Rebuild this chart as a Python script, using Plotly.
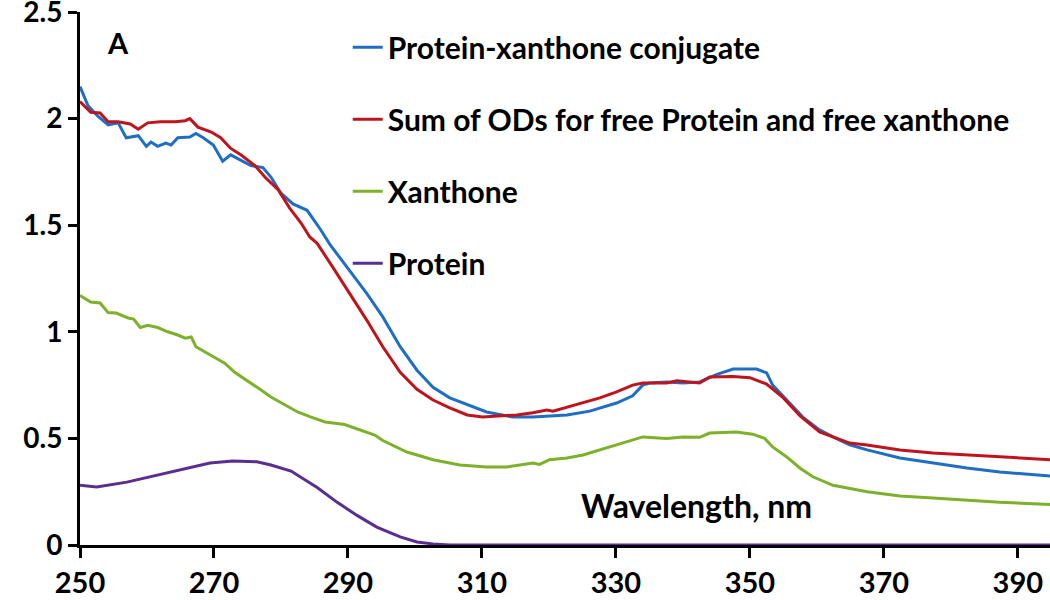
import plotly.graph_objects as go

# ---- data ----
wl_conj = [250, 251.2, 252.7, 254.2, 255.7, 256.9, 258.7, 259.9, 260.6, 261.6, 262.8, 263.6, 264.6,
           266.4, 267.3, 268.4, 269.9, 271.3, 272.5, 274.0, 275.5, 277.3, 278.5, 280, 281.8, 283.9,
           285.9, 287.3, 289.9, 292.8, 295.2, 297.8, 300.3, 302.7, 305.2, 307.8, 310.7, 314.6, 317.6,
           322.7, 326.1, 330.1, 332.5, 334, 335, 337.6, 340, 342.5, 345.1, 347.5, 351, 352.5, 353.4,
           355.5, 357.9, 360.4, 362.4, 364.9, 367.5, 372.4, 377.3, 382.4, 387.3, 392.2, 395]
od_conj = [2.15, 2.06, 2.01, 1.97, 1.98, 1.91, 1.92, 1.87, 1.89, 1.87, 1.885, 1.876, 1.91,
           1.914, 1.93, 1.91, 1.876, 1.80, 1.83, 1.806, 1.78, 1.77, 1.726, 1.65, 1.60, 1.57,
           1.48, 1.41, 1.30, 1.18, 1.07, 0.93, 0.82, 0.74, 0.69, 0.66, 0.624, 0.60, 0.60,
           0.61, 0.628, 0.666, 0.70, 0.75, 0.76, 0.765, 0.76, 0.765, 0.80, 0.825, 0.825, 0.807, 0.75,
           0.68, 0.60, 0.54, 0.507, 0.47, 0.446, 0.408, 0.385, 0.361, 0.342, 0.328, 0.323]

wl_sum = [250, 251.6, 253, 254.2, 255.7, 257.5, 258.7, 260.1, 262, 264.2, 265.7, 266.4, 267.6,
          269.6, 271, 272.5, 274, 276.1, 277.6, 279.6, 281.3, 283, 284.3, 285.4, 287.8, 290.3,
          292.8, 295.2, 297.8, 300.3, 302.7, 305.2, 307.8, 310.1, 312.7, 315.2, 317.6, 319.7,
          320.6, 322.7, 325.1, 327.6, 330.1, 332.5, 334, 337.6, 339.1, 342.5, 344, 347.5, 350,
          352.5, 355, 357.5, 360.4, 362.4, 364.9, 367.5, 372.4, 377.3, 382.4, 387.3, 395]
od_sum = [2.08, 2.03, 2.026, 1.985, 1.985, 1.975, 1.95, 1.98, 1.985, 1.985, 1.99, 2.00, 1.96,
          1.937, 1.91, 1.86, 1.83, 1.78, 1.726, 1.665, 1.58, 1.51, 1.445, 1.415, 1.30, 1.18,
          1.055, 0.93, 0.81, 0.73, 0.68, 0.643, 0.61, 0.60, 0.605, 0.61, 0.62, 0.633,
          0.628, 0.647, 0.67, 0.69, 0.718, 0.75, 0.76, 0.76, 0.77, 0.76, 0.788, 0.79, 0.785,
          0.755, 0.69, 0.605, 0.53, 0.507, 0.478, 0.469, 0.446, 0.432, 0.422, 0.413, 0.40]

wl_xan = [250, 251.6, 253, 254.2, 255.4, 257.2, 258, 259, 260.1, 261.6, 263.1, 264.6, 265.7,
          266.6, 267.3, 269.6, 271.6, 273.1, 274.6, 276.6, 278.5, 280.6, 282.5, 284.5, 286.6,
          289.5, 291.9, 294, 295.2, 298.8, 302.7, 306.7, 310.7, 313.7, 317.6, 318.6, 320.1,
          322.7, 325.1, 327.6, 330.1, 332.5, 334, 337.6, 340, 342.5, 344, 348, 350.4, 352.2,
          353.4, 355.5, 357.5, 359.4, 362.4, 367.5, 372.4, 377.3, 382.4, 387.3, 395]
od_xan = [1.17, 1.14, 1.135, 1.09, 1.088, 1.065, 1.06, 1.02, 1.03, 1.02, 1.0, 0.985, 0.97,
          0.976, 0.93, 0.89, 0.853, 0.81, 0.78, 0.736, 0.694, 0.657, 0.624, 0.60, 0.577,
          0.565, 0.54, 0.516, 0.49, 0.436, 0.40, 0.375, 0.366, 0.366, 0.385, 0.378, 0.40,
          0.408, 0.422, 0.446, 0.469, 0.49, 0.507, 0.50, 0.507, 0.505, 0.525, 0.53, 0.52, 0.50,
          0.46, 0.413, 0.36, 0.32, 0.28, 0.25, 0.23, 0.22, 0.21, 0.20, 0.19]

wl_pro = [250, 252.5, 257, 260.4, 264.5, 269.4, 272.8, 276.4, 278.5, 281.5, 285.4, 288.4, 291.3,
          294.3, 297.8, 300.3, 302.7, 305.2, 310, 320, 340, 360, 380, 395]
od_pro = [0.28, 0.272, 0.295, 0.32, 0.35, 0.385, 0.394, 0.39, 0.375, 0.347, 0.27, 0.2, 0.14,
          0.084, 0.038, 0.014, 0.005, 0, 0, 0, 0, 0, 0, 0]

series_names = ["Protein-xanthone conjugate",
                "Sum of ODs for free Protein and free xanthone",
                "Xanthone", "Protein"]
x_ticks = [250, 270, 290, 310, 330, 350, 370, 390]
y_ticks = [0, 0.5, 1, 1.5, 2, 2.5]
y_tick_text = ["0", "0.5", "1", "1.5", "2", "2.5"]

colors = ["#1f6ec6", "#c0141c", "#7db12a", "#5a2d91"]
FONT = "Lato"

fig = go.Figure()
for i, (wl, od) in enumerate([(wl_conj, od_conj), (wl_sum, od_sum), (wl_xan, od_xan), (wl_pro, od_pro)]):
    fig.add_trace(go.Scatter(x=wl, y=od, mode="lines", name=series_names[i],
                             legendgroup=f"g{i}",
                             line=dict(color=colors[i], width=3)))

fig.update_layout(
    width=1050, height=600,
    margin=dict(l=80, r=0, t=12, b=55),
    paper_bgcolor="white", plot_bgcolor="white",
    font=dict(family=FONT, color="black"),
    showlegend=True,
    legend=dict(x=0.276, y=0.9825, xanchor="left", yanchor="top",
                bgcolor="rgba(0,0,0,0)", traceorder="grouped", tracegroupgap=30,
                font=dict(family=FONT, size=30, color="black", weight="bold")),
    xaxis=dict(range=[250, 394.8], tickvals=x_ticks, showgrid=False, zeroline=False,
               automargin=False, ticklabeloverflow="allow",
               showline=True, linecolor="black", linewidth=3,
               ticks="outside", ticklen=10, tickwidth=3, tickcolor="black",
               tickfont=dict(family=FONT, size=29, color="black", weight="bold")),
    yaxis=dict(range=[0, 2.5], tickvals=y_ticks, ticktext=y_tick_text, showgrid=False,
               automargin=False, ticklabeloverflow="allow",
               zeroline=False, showline=True, linecolor="black", linewidth=3,
               ticks="outside", ticklen=9, tickwidth=3, tickcolor="black",
               tickfont=dict(family=FONT, size=28, color="black", weight="bold")),
    annotations=[
        dict(text="A", xref="paper", yref="paper", x=0.039, y=0.942, showarrow=False,
             xanchor="center", yanchor="middle",
             font=dict(family=FONT, size=29, color="black", weight="bold")),
        dict(text="Wavelength, nm", xref="paper", yref="paper", x=0.636, y=0.075,
             showarrow=False, xanchor="center", yanchor="middle",
             font=dict(family=FONT, size=32, color="black", weight="bold")),
    ],
)

fig.write_html("out.html", config={"displayModeBar": False},
               post_script="document.body.style.margin='0';document.body.style.overflow='hidden';")
